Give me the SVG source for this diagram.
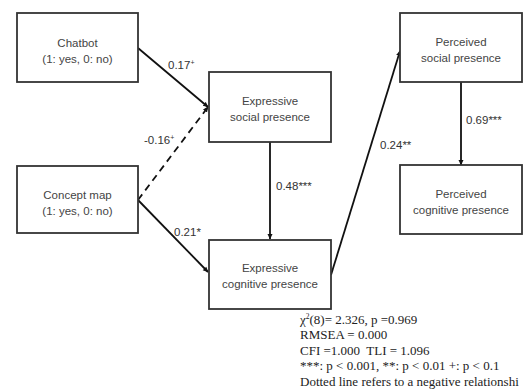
<svg xmlns="http://www.w3.org/2000/svg" width="527" height="390" viewBox="0 0 527 390">
<style>
.box{fill:#fff;stroke:#333;stroke-width:1.8}
.nt{font-family:"Liberation Sans",Arial,sans-serif;font-size:11.5px;fill:#444;text-anchor:middle}
.lb{font-family:"Liberation Sans",Arial,sans-serif;font-size:11.5px;fill:#333}
.sup{font-size:7px}
.ln{stroke:#111;stroke-width:1.8;fill:none}
.ft{font-family:"Liberation Serif","Times New Roman",serif;font-size:13px;fill:#222}
</style>
<defs>
<marker id="ah" markerWidth="6" markerHeight="6" refX="5" refY="3" orient="auto" markerUnits="userSpaceOnUse">
<path d="M0,0.5 L5.5,3 L0,5.5 Z" fill="#111"/>
</marker>
</defs>
<rect width="527" height="390" fill="#fff"/>
<g id="connectors">
<line class="ln" x1="138" y1="48" x2="208" y2="107" marker-end="url(#ah)"/>
<line class="ln" x1="138" y1="200" x2="208" y2="107" stroke-dasharray="7,5" marker-end="url(#ah)"/>
<line class="ln" x1="138" y1="200" x2="208" y2="272" marker-end="url(#ah)"/>
<line class="ln" x1="270" y1="142" x2="270" y2="239" marker-end="url(#ah)"/>
<line class="ln" x1="331" y1="275" x2="400" y2="51" marker-end="url(#ah)"/>
<line class="ln" x1="461" y1="82" x2="461" y2="165" marker-end="url(#ah)"/>
<text class="lb" x="168" y="69">0.17<tspan class="sup" dy="-4">+</tspan></text>
<text class="lb" x="144" y="144">-0.16<tspan class="sup" dy="-4">+</tspan></text>
<text class="lb" x="276" y="190">0.48***</text>
<text class="lb" x="174" y="236">0.21*</text>
<text class="lb" x="380" y="149">0.24**</text>
<text class="lb" x="466" y="124">0.69***</text>
</g>
<g id="chatbot">
<rect class="box" x="17" y="13" width="121" height="69"/>
<text class="nt" x="77.5" y="47">Chatbot</text>
<text class="nt" x="77.5" y="63">(1: yes, 0: no)</text>
</g>
<g id="concept-map">
<rect class="box" x="17" y="166" width="121" height="67"/>
<text class="nt" x="77.5" y="199">Concept map</text>
<text class="nt" x="77.5" y="215">(1: yes, 0: no)</text>
</g>
<g id="expressive-social">
<rect class="box" x="209" y="72" width="122" height="70"/>
<text class="nt" x="270" y="105">Expressive</text>
<text class="nt" x="270" y="121">social presence</text>
</g>
<g id="expressive-cognitive">
<rect class="box" x="209" y="240" width="122" height="69"/>
<text class="nt" x="270" y="272">Expressive</text>
<text class="nt" x="270" y="288">cognitive presence</text>
</g>
<g id="perceived-social">
<rect class="box" x="400" y="13" width="122" height="69"/>
<text class="nt" x="461" y="46">Perceived</text>
<text class="nt" x="461" y="62">social presence</text>
</g>
<g id="perceived-cognitive">
<rect class="box" x="400" y="165" width="122" height="69"/>
<text class="nt" x="461" y="198">Perceived</text>
<text class="nt" x="461" y="214">cognitive presence</text>
</g>
<g id="notes">
<text class="ft" x="300" y="324">χ<tspan font-size="7.5" dy="-5">2</tspan><tspan dy="5">(8)= 2.326, p =0.969</tspan></text>
<text class="ft" x="300" y="339">RMSEA = 0.000</text>
<text class="ft" x="300" y="355" xml:space="preserve">CFI =1.000  TLI = 1.096</text>
<text class="ft" x="300" y="370">***: p &lt; 0.001, **: p &lt; 0.01 +: p &lt; 0.1</text>
<text class="ft" x="300" y="386">Dotted line refers to a negative relationshi</text>
</g>
</svg>
